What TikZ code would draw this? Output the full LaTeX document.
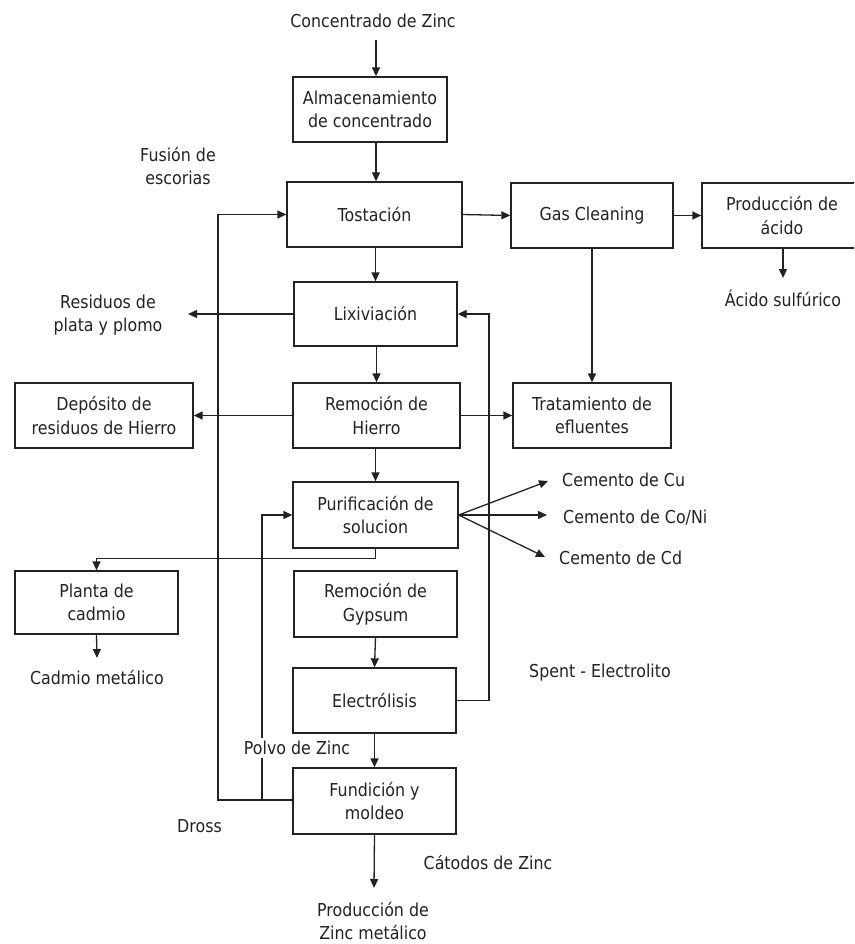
\documentclass[tikz,border=0pt]{standalone}
\usepackage{fontspec}
\setmainfont{DejaVu Sans}[FakeStretch=0.89]
\usetikzlibrary{arrows.meta}
\definecolor{ink}{HTML}{222222}
\tikzset{
  box/.style={draw=ink, line width=1.3pt, align=center, inner sep=0pt, text=ink,
    font=\fontsize{17.8}{23.5}\selectfont},
  lbl/.style={align=center, inner sep=2pt, text=ink, font=\fontsize{17.8}{23.5}\selectfont},
  conn/.style={draw=ink, line width=1.3pt},
  arr/.style={conn, -{Triangle[length=9pt,width=8pt]}},
}
\begin{document}
\begin{tikzpicture}[x=1pt,y=-1pt]
\useasboundingbox (0,0) rectangle (854,944);
\clip (0,0) rectangle (854,944);
% boxes
\node[box, minimum width=154pt, minimum height=65pt] (alm) at (370,109.5) {Almacenamiento\\de concentrado};
\node[box, minimum width=175pt, minimum height=65pt] (tos) at (374.5,214.5) {Tostación};
\node[box, minimum width=162pt, minimum height=65pt] (gas) at (592,215.5) {Gas Cleaning};
\node[box, minimum width=160pt, minimum height=65pt] (pac) at (782,215.5) {Producción de\\ácido};
\node[box, minimum width=163pt, minimum height=64pt] (lix) at (375.5,314) {Lixiviación};
\node[box, minimum width=167pt, minimum height=65pt] (rem) at (376.5,415.5) {Remoción de\\Hierro};
\node[box, minimum width=178pt, minimum height=65pt] (dep) at (104,415.5) {Depósito de\\residuos de Hierro};
\node[box, minimum width=158pt, minimum height=65pt] (tra) at (592,415.5) {Tratamiento de\\efluentes};
\node[box, minimum width=165pt, minimum height=66pt] (pur) at (375.5,515) {Purificación de\\solucion};
\node[box, minimum width=163pt, minimum height=63pt] (pla) at (96.5,602.5) {Planta de\\cadmio};
\node[box, minimum width=163pt, minimum height=66pt] (gyp) at (375.5,604) {Remoción de\\Gypsum};
\node[box, minimum width=163pt, minimum height=65pt] (ele) at (374.5,700.5) {Electrólisis};
\node[box, minimum width=163pt, minimum height=66pt] (fun) at (374.5,801) {Fundición y\\moldeo};
% labels
\node[lbl] (conc) at (373,21) {Concentrado de Zinc};
\node[lbl] (fus) at (178,166) {Fusión de\\escorias};
\node[lbl] (res) at (108,315) {Residuos de\\plata y plomo};
\node[lbl] (acs) at (783,298) {Ácido sulfúrico};
\node[lbl, anchor=west, inner sep=0pt] (cu) at (562,480) {Cemento de Cu};
\node[lbl, anchor=west, inner sep=0pt] (coni) at (563,518) {Cemento de Co/Ni};
\node[lbl, anchor=west, inner sep=0pt] (cd) at (559,558) {Cemento de Cd};
\node[lbl] (cme) at (97,677) {Cadmio metálico};
\node[lbl, anchor=west, inner sep=0pt] (spe) at (529,673) {Spent - Electrolito};
\node[lbl] (dro) at (199.5,826) {Dross};
\node[lbl] (cat) at (488,862) {Cátodos de Zinc};
\node[lbl, inner sep=0pt] (pzm) at (373,921) {Producción de\\Zinc metálico};
% coordinates
\coordinate (resend) at (188,314);
\coordinate (cuend) at (548,481);
\coordinate (coniend) at (547,515);
\coordinate (cdend) at (545,557);
\coordinate (concend) at (376,40);
\coordinate (acsend) at (783,278);
\coordinate (cmeend) at (97,658);
\coordinate (pzmend) at (374,888);
\coordinate (spx) at (489,700.5);
\coordinate (drx) at (218,800);
\coordinate (pvx) at (262,800);
% main column
\draw[arr] (concend) -- (concend |- alm.north);
\draw[arr] (alm.south -| concend) -- (tos.north -| concend);
\draw[arr] (tos.south -| lix) -- (lix.north);
\draw[arr] (lix.south -| rem) -- (rem.north);
\draw[arr] (rem.south -| pur) -- (pur.north);
\draw[arr] (gyp.south) -- (ele.north);
\draw[arr] (ele.south) -- (fun.north);
\draw[arr] (fun.south) -- (pzmend);
% right side
\draw[arr] (tos.east) -- (gas.west);
\draw[arr] (gas.east) -- (pac.west);
\draw[arr] (pac.south -| acsend) -- (acsend);
\draw[arr] (gas.south) -- (tra.north);
\draw[arr] (rem.east) -- (tra.west);
% left side
\draw[arr] (lix.west) -- (resend);
\draw[arr] (rem.west) -- (dep.east);
\draw[arr] (pur.south) -- ++(0,10) -| (pla.north);
\draw[arr] (pla.south) -- (cmeend);
% cements
\draw[arr] (pur.east) -- (cuend);
\draw[arr] (pur.east) -- (coniend);
\draw[arr] (pur.east) -- (cdend);
% loops
\draw[arr] (ele.east) -- (spx) |- (lix.east);
\draw[arr] (fun.west |- drx) -- (drx) |- (tos.west);
\draw[arr] (pvx) |- (pur.west);
% label over polvo line
\node[lbl, fill=white, inner sep=3pt] (pol) at (297,748) {Polvo de Zinc};
\end{tikzpicture}
\end{document}
